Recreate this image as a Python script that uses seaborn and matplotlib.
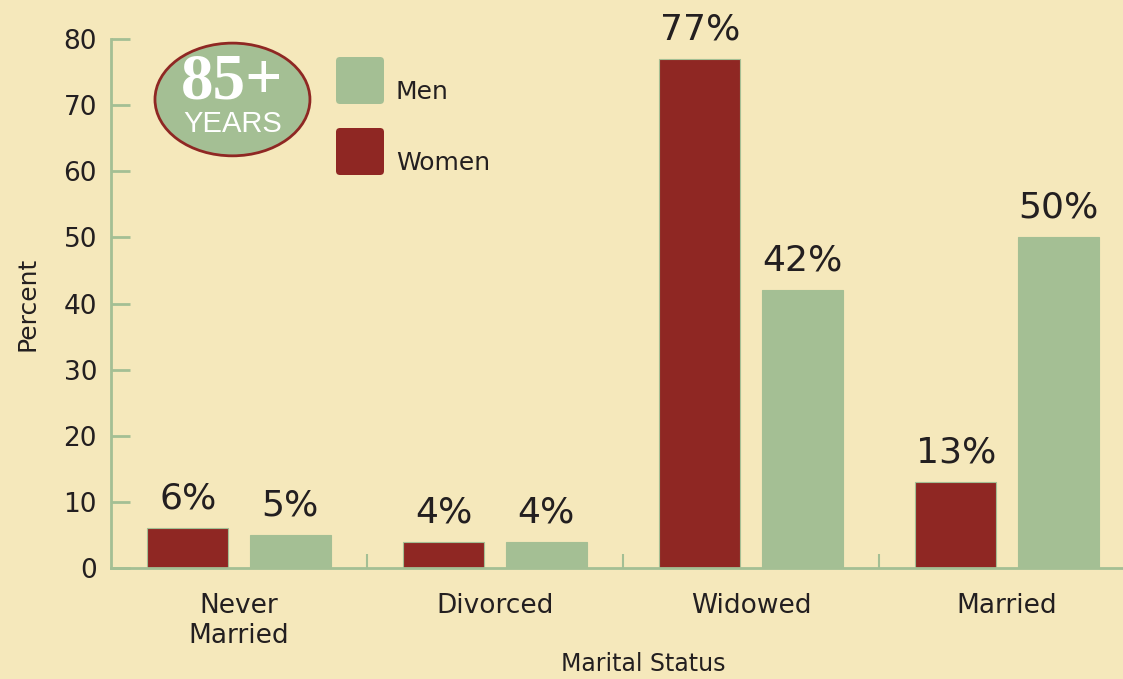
import pandas as pd
import matplotlib
matplotlib.use("Agg")
import matplotlib.pyplot as plt
import seaborn as sns
from matplotlib.patches import Ellipse, FancyBboxPatch

# data
statuses = ["Never\nMarried", "Divorced", "Widowed", "Married"]
women = [6, 4, 77, 13]
men = [5, 4, 42, 50]

bg = "#f5e8bb"
c_women = "#8f2723"
c_men = "#a4bf94"
ink = "#231f20"

df = pd.DataFrame({
    "Marital Status": statuses * 2,
    "Percent": women + men,
    "Sex": ["Women"] * 4 + ["Men"] * 4,
})

sns.set_style("white")
plt.rcParams["font.family"] = ["DejaVu Sans"]

fig = plt.figure(figsize=(11.23, 6.79), dpi=100, facecolor=bg)
ax = fig.add_axes([0.0988, 0.1635, 0.912, 0.779])
ax.set_facecolor(bg)

sns.barplot(data=df, x="Marital Status", y="Percent", hue="Sex",
            hue_order=["Women", "Men"], palette={"Women": c_women, "Men": c_men},
            width=0.8, gap=0.21, ax=ax, legend=False, saturation=1,
            edgecolor=c_men, linewidth=0.8)

for cont in ax.containers:
    ax.bar_label(cont, labels=[f"{v:.0f}%" for v in cont.datavalues],
                 padding=9, fontsize=26, color=ink, clip_on=False)

ax.set_xlim(-0.5, 3.5)
ax.set_ylim(0, 80)
ax.set_yticks(range(0, 81, 10))
for side in ["top", "right"]:
    ax.spines[side].set_visible(False)
for side in ["left", "bottom"]:
    ax.spines[side].set_color(c_men)
    ax.spines[side].set_linewidth(2)

ax.tick_params(axis="y", left=True, direction="in", length=14, width=2, color=c_men,
               labelsize=19, labelcolor=ink, pad=10)
ax.tick_params(axis="x", length=0, labelsize=19, labelcolor=ink, pad=18)
ax.set_xticks([0.5, 1.5, 2.5], minor=True)
ax.tick_params(axis="x", which="minor", bottom=True, direction="in", length=10,
               width=1.5, color=c_men)

ax.set_xlabel("Marital Status", fontsize=17, color=ink)
ax.xaxis.set_label_coords(0.52, -0.158)
ax.set_ylabel("Percent", fontsize=18, color=ink, labelpad=17)

# age badge
badge = Ellipse((0.207, 0.8535), 0.138, 0.166, transform=fig.transFigure,
                facecolor=c_men, edgecolor=c_women, linewidth=2)
fig.patches.append(badge)
fig.text(0.207, 0.879, "85+", ha="center", va="center", fontsize=47,
         fontweight="bold", color="white", family=["Liberation Serif", "DejaVu Serif"])
fig.text(0.207, 0.818, "YEARS", ha="center", va="center", fontsize=21,
         color="white", family=["Liberation Sans", "DejaVu Sans"])

# legend, drawn as rounded swatches
tr = fig.dpi_scale_trans
for y0, col, lab in [(5.75, c_men, "Men"), (5.04, c_women, "Women")]:
    fig.patches.append(FancyBboxPatch((3.40, y0 + 0.04), 0.40, 0.39,
                                      boxstyle="round,pad=0.04", transform=tr,
                                      facecolor=col, edgecolor="none"))
    fig.text(3.96, y0 + 0.12, lab, transform=tr, ha="left", va="center",
             fontsize=18, color=ink)

fig.savefig("out.png", dpi=100, facecolor=bg)
